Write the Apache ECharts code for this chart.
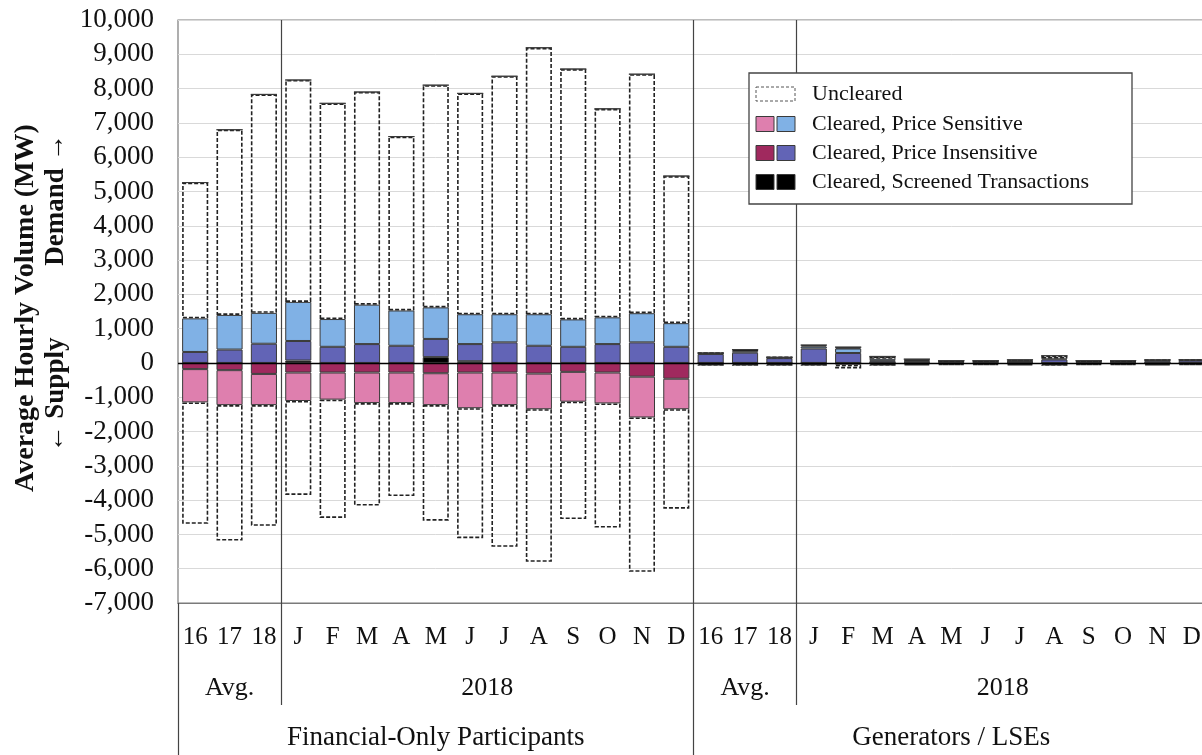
<!DOCTYPE html>
<html>
<head>
<meta charset="utf-8">
<script src="https://cdn.jsdelivr.net/npm/echarts@6/dist/echarts.min.js"></script>
<style>
html,body{margin:0;padding:0;background:#fff;overflow:hidden;}
#main{width:1209px;height:755px;}
</style>
</head>
<body>
<div id="main"></div>
<script>
// ---- Data ----
const categories = ['16','17','18','J','F','M','A','M','J','J','A','S','O','N','D',
                    '16','17','18','J','F','M','A','M','J','J','A','S','O','N','D'];
const yTicks = { min: -7000, max: 10000, interval: 1000 };

// Financial-Only Participants (segments, MW)
const finDemScreened  = [0,0,0,70,0,0,0,170,50,0,0,0,0,0,0];
const finDemInsens    = [320,390,560,570,470,550,500,530,500,600,500,470,550,600,470];
const finDemSens      = [980,1010,900,1140,810,1150,1030,920,870,820,920,800,780,850,690];
const finDemUncleared = [3960,5400,6370,6470,6290,6200,5070,6480,6440,6940,7770,7300,6080,6970,4290];
const finSupScreened  = [0,0,0,0,0,0,0,0,0,0,0,0,0,0,0];
const finSupInsens    = [-180,-210,-320,-280,-280,-280,-280,-300,-280,-280,-310,-260,-280,-400,-460];
const finSupSens      = [-970,-1020,-910,-830,-790,-890,-890,-930,-1040,-950,-1040,-870,-900,-1190,-890];
const finSupUncleared = [-3540,-3950,-3520,-2740,-3450,-2990,-2710,-3370,-3790,-4130,-4450,-3420,-3620,-4500,-2900];

// Generators / LSEs (segments, MW)
const genDemScreened  = [0,0,0,0,0,0,20,20,20,20,0,20,20,0,0];
const genDemInsens    = [260,300,140,420,290,60,30,20,20,20,100,20,20,60,70];
const genDemSens      = [20,40,20,60,130,60,20,10,10,20,30,10,10,20,20];
const genDemUncleared = [10,50,5,40,40,70,40,20,20,30,80,20,20,10,0];
const genSupScreened  = [0,0,0,0,0,0,0,0,0,0,0,0,0,0,0];
const genSupInsens    = [-10,-10,-10,-10,-10,-10,-10,-10,-10,-10,-10,-10,-10,-10,-10];
const genSupSens      = [-20,-20,-20,-20,-40,-20,-20,-20,-20,-20,-20,-20,-20,-20,-20];
const genSupUncleared = [-50,-50,-50,-50,-110,-50,-40,-30,-30,-40,-50,-30,-30,-40,-30];

const groupLabels = ['Financial-Only Participants', 'Generators / LSEs'];
const periodLabels = ['Avg.', '2018'];
const legendLabels = ['Uncleared', 'Cleared, Price Sensitive', 'Cleared, Price Insensitive', 'Cleared, Screened Transactions'];

// ---- Styles ----
const serif = '"Liberation Serif", "Times New Roman", serif';
const C = {
  demSens: '#80b1e5', demIns: '#6264b6', supSens: '#de7fae', supIns: '#a0295e', scr: '#000000',
  border: '#3a3a3a'
};

function solid(name, data, color) {
  return {
    name, type: 'bar', stack: 'v', data, barCategoryGap: '24%',
    itemStyle: { color, borderColor: C.border, borderWidth: 1 },
    emphasis: { disabled: true }, animation: false
  };
}
function dashed(name, data) {
  return {
    name, type: 'bar', stack: 'v', data, barCategoryGap: '24%',
    itemStyle: { color: 'rgba(255,255,255,0)', borderColor: '#222', borderWidth: 1.6, borderType: [4, 2] },
    emphasis: { disabled: true }, animation: false
  };
}

const demScreened = finDemScreened.concat(genDemScreened);
const demInsens = finDemInsens.concat(genDemInsens);
const demSens = finDemSens.concat(genDemSens);
const demUnc = finDemUncleared.concat(genDemUncleared);
const supScreened = finSupScreened.concat(genSupScreened);
const supInsens = finSupInsens.concat(genSupInsens);
const supSens = finSupSens.concat(genSupSens);
const supUnc = finSupUncleared.concat(genSupUncleared);

const chart = echarts.init(document.getElementById('main'), null, { renderer: 'canvas' });

const sepMid = (i) => i === 3 || i === 18;
const sepFull = (i) => i === 0 || i === 15;
const sepAll = (i) => i === 3 || i === 15 || i === 18;

const s0 = solid('Demand Screened', demScreened, C.scr);
s0.markLine = {
  silent: true, symbol: 'none', label: { show: false },
  lineStyle: { color: '#000', width: 1.4, type: 'solid' },
  data: [{ yAxis: 0 }]
};

chart.setOption({
  animation: false,
  backgroundColor: '#fff',
  grid: { left: 178, top: 20, right: 0, bottom: 152, show: true, borderColor: '#7a7a7a', borderWidth: 1.2, backgroundColor: 'transparent' },
  xAxis: [
    {
      type: 'category', data: categories, position: 'bottom',
      axisLine: { show: true, onZero: false, lineStyle: { color: '#7a7a7a', width: 1.2 } },
      axisTick: { show: true, interval: sepMid, length: 102, lineStyle: { color: '#444', width: 1.2 } },
      axisLabel: { interval: 0, fontFamily: serif, fontSize: 25, color: '#111', margin: 22 },
      splitLine: { show: true, interval: sepAll, lineStyle: { color: '#444', width: 1.2 } }
    },
    {
      type: 'category', data: categories, position: 'bottom',
      axisLine: { show: false, onZero: false },
      axisTick: { show: true, interval: sepFull, length: 152, lineStyle: { color: '#444', width: 1.2 } },
      axisLabel: { show: false },
      splitLine: { show: false }
    }
  ],
  yAxis: {
    type: 'value', min: yTicks.min, max: yTicks.max, interval: yTicks.interval,
    axisLine: { show: false },
    axisTick: { show: false },
    axisLabel: {
      fontFamily: serif, fontSize: 27, color: '#111', margin: 24,
      formatter: (v) => String(v).replace(/\B(?=(\d{3})+(?!\d))/g, ',')
    },
    splitLine: { show: true, lineStyle: { color: '#d9d9d9', width: 1 } }
  },
  series: [
    s0,
    solid('Demand Insensitive', demInsens, C.demIns),
    solid('Demand Sensitive', demSens, C.demSens),
    dashed('Demand Uncleared', demUnc),
    solid('Supply Screened', supScreened, C.scr),
    solid('Supply Insensitive', supInsens, C.supIns),
    solid('Supply Sensitive', supSens, C.supSens),
    dashed('Supply Uncleared', supUnc)
  ]
});

// ---- Text rows, axis title, legend (positions from the axis scale) ----
const px = (i) => chart.convertToPixel({ xAxisIndex: 0 }, i);
const mid = (a, b) => (px(a) + px(b)) / 2;
const txt = (text, x, y, size, extra) => Object.assign({
  type: 'text', x, y, silent: true,
  style: Object.assign({ text, fontFamily: serif, fontSize: size, fill: '#111',
    align: 'center', verticalAlign: 'middle', textAlign: 'center', textVerticalAlign: 'middle' }, (extra && extra.style) || {})
}, extra && extra.rotation !== undefined ? { rotation: extra.rotation } : {});

const rowY1 = 688, rowY2 = 738;
const elements = [
  txt(periodLabels[0], px(1), rowY1, 26),
  txt(periodLabels[1], mid(8, 9), rowY1, 26),
  txt(periodLabels[0], px(16), rowY1, 26),
  txt(periodLabels[1], mid(23, 24), rowY1, 26),
  txt(groupLabels[0], px(7), rowY2, 27),
  txt(groupLabels[1], px(22), rowY2, 27),
  // y axis title
  txt('Average Hourly Volume (MW)', 26, 308, 28, { rotation: Math.PI / 2, style: { fontWeight: 'bold' } }),
  txt('Demand \u2192', 56, 200, 27, { rotation: Math.PI / 2, style: { fontWeight: 'bold' } }),
  txt('\u2190 Supply', 56, 395, 27, { rotation: Math.PI / 2, style: { fontWeight: 'bold' } })
];

// legend box
const lx = 749, ly = 73, lw = 383, lh = 131;
elements.push({ type: 'rect', silent: true, shape: { x: lx, y: ly, width: lw, height: lh },
  style: { fill: '#fff', stroke: '#444', lineWidth: 1.3 } });
const rowsY = [94, 124, 153, 182];
const sw = 18, sh = 15;
elements.push({ type: 'rect', silent: true, shape: { x: 756, y: rowsY[0] - 7, width: 39, height: 14 },
  style: { fill: '#fff', stroke: '#555', lineWidth: 1, lineDash: [3, 2] } });
const pairs = [[C.supSens, C.demSens], [C.supIns, C.demIns], [C.scr, C.scr]];
pairs.forEach((p, k) => {
  const y = rowsY[k + 1] - sh / 2;
  elements.push({ type: 'rect', silent: true, shape: { x: 756, y, width: sw, height: sh }, style: { fill: p[0], stroke: C.border, lineWidth: 1 } });
  elements.push({ type: 'rect', silent: true, shape: { x: 777, y, width: sw, height: sh }, style: { fill: p[1], stroke: C.border, lineWidth: 1 } });
});
legendLabels.forEach((t, k) => {
  elements.push({ type: 'text', silent: true, x: 812, y: rowsY[k],
    style: { text: t, fontFamily: serif, fontSize: 22, fill: '#111', align: 'left', verticalAlign: 'middle', textAlign: 'left', textVerticalAlign: 'middle' } });
});

chart.setOption({ graphic: { elements } });
</script>
</body>
</html>
